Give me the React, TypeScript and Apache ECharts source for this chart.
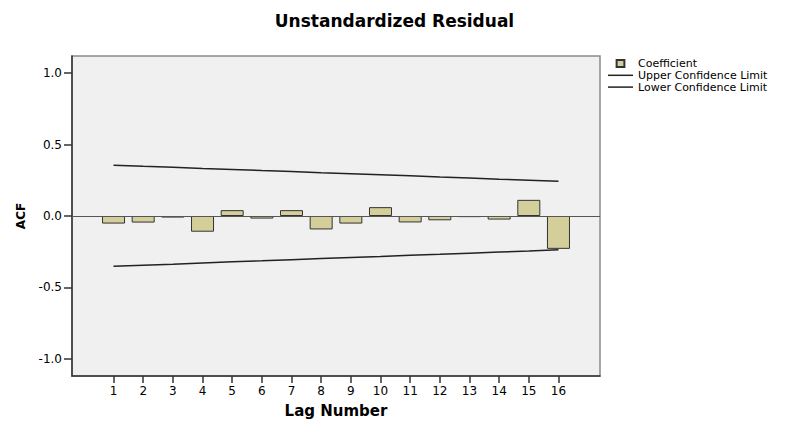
import React, { useEffect, useRef } from "react";
import * as echarts from "echarts";

const lags = [1, 2, 3, 4, 5, 6, 7, 8, 9, 10, 11, 12, 13, 14, 15, 16];
const coefficient = [-0.053, -0.046, -0.011, -0.11, 0.041, -0.018, 0.041, -0.094, -0.053, 0.062, -0.045, -0.03, -0.008, -0.025, 0.113, -0.23];
const upperLimit = [0.356, 0.348, 0.341, 0.333, 0.326, 0.318, 0.311, 0.303, 0.296, 0.288, 0.281, 0.273, 0.266, 0.258, 0.251, 0.243];
const lowerLimit = [-0.352, -0.344, -0.337, -0.329, -0.321, -0.314, -0.306, -0.298, -0.29, -0.283, -0.275, -0.268, -0.26, -0.252, -0.245, -0.237];
const yTicks = [-1, -0.5, 0, 0.5, 1];

const FONT = "DejaVu Sans";

export default function App() {
  const ref = useRef<HTMLDivElement>(null);
  useEffect(() => {
    if (!ref.current) return;
    const chart = echarts.init(ref.current, null, { renderer: "svg" });
    const axisLineStyle = { color: "#333", width: 1.5 };
    chart.setOption({
      animation: false,
      backgroundColor: "#fff",
      title: {
        text: "Unstandardized Residual",
        left: "center",
        top: 7,
        textStyle: { fontFamily: FONT, fontWeight: "bold", fontSize: 17, color: "#000" },
      },
      legend: {
        orient: "vertical",
        left: 603,
        top: 53,
        itemWidth: 25,
        itemHeight: 7,
        itemGap: 0.8,
        textStyle: { fontFamily: FONT, fontSize: 11, color: "#000" },
        data: [
          { name: "Coefficient", icon: "path://M0,0H10V9H0Z" },
          { name: "Upper Confidence Limit", icon: "path://M0,0H50V3H0Z" },
          { name: "Lower Confidence Limit", icon: "path://M0,0H50V3H0Z" },
        ],
      },
      grid: {
        left: 72,
        right: 189,
        top: 56,
        bottom: 43,
        show: true,
        backgroundColor: "#f0f0f0",
        borderColor: "#8a8a8a",
        borderWidth: 1.5,
      },
      xAxis: {
        type: "value",
        min: -0.4,
        max: 17.4,
        name: "Lag Number",
        nameLocation: "middle",
        nameGap: 27,
        nameTextStyle: { fontFamily: FONT, fontWeight: "bold", fontSize: 15, color: "#000" },
        axisLine: { show: true, onZero: false, lineStyle: axisLineStyle },
        axisTick: { show: true, length: 7, lineStyle: axisLineStyle, customValues: lags },
        axisLabel: { customValues: lags, fontFamily: FONT, fontSize: 12, color: "#000", margin: 9 },
        splitLine: { show: false },
      },
      yAxis: {
        type: "value",
        min: -1.12,
        max: 1.12,
        name: "ACF",
        nameLocation: "middle",
        nameRotate: 90,
        nameGap: 45,
        nameTextStyle: { fontFamily: FONT, fontWeight: "bold", fontSize: 12, color: "#000" },
        axisLine: { show: true, onZero: false, lineStyle: axisLineStyle },
        axisTick: { show: true, length: 8, lineStyle: axisLineStyle, customValues: yTicks },
        axisLabel: {
          customValues: yTicks,
          fontFamily: FONT,
          fontSize: 12,
          color: "#000",
          margin: 10,
          formatter: (v: number) => v.toFixed(1),
        },
        splitLine: { show: false },
      },
      series: [
        {
          name: "Coefficient",
          type: "bar",
          barWidth: 23,
          data: lags.map((l, i) => [l, coefficient[i]]),
          itemStyle: { color: "#d4cf9a", borderColor: "#333", borderWidth: 1 },
          markLine: {
            silent: true,
            symbol: "none",
            label: { show: false },
            lineStyle: { color: "#555", width: 1.2, type: "solid" },
            data: [{ yAxis: 0 }],
          },
        },
        {
          name: "Upper Confidence Limit",
          type: "line",
          color: "#222",
          symbol: "none",
          lineStyle: { color: "#222", width: 1.5 },
          data: lags.map((l, i) => [l, upperLimit[i]]),
        },
        {
          name: "Lower Confidence Limit",
          type: "line",
          color: "#222",
          symbol: "none",
          lineStyle: { color: "#222", width: 1.5 },
          data: lags.map((l, i) => [l, lowerLimit[i]]),
        },
      ],
    });
    return () => chart.dispose();
  }, []);
  return (
    <div
      ref={ref}
      style={{ position: "absolute", left: 0, top: 0, width: 789, height: 423, background: "#fff" }}
    />
  );
}
